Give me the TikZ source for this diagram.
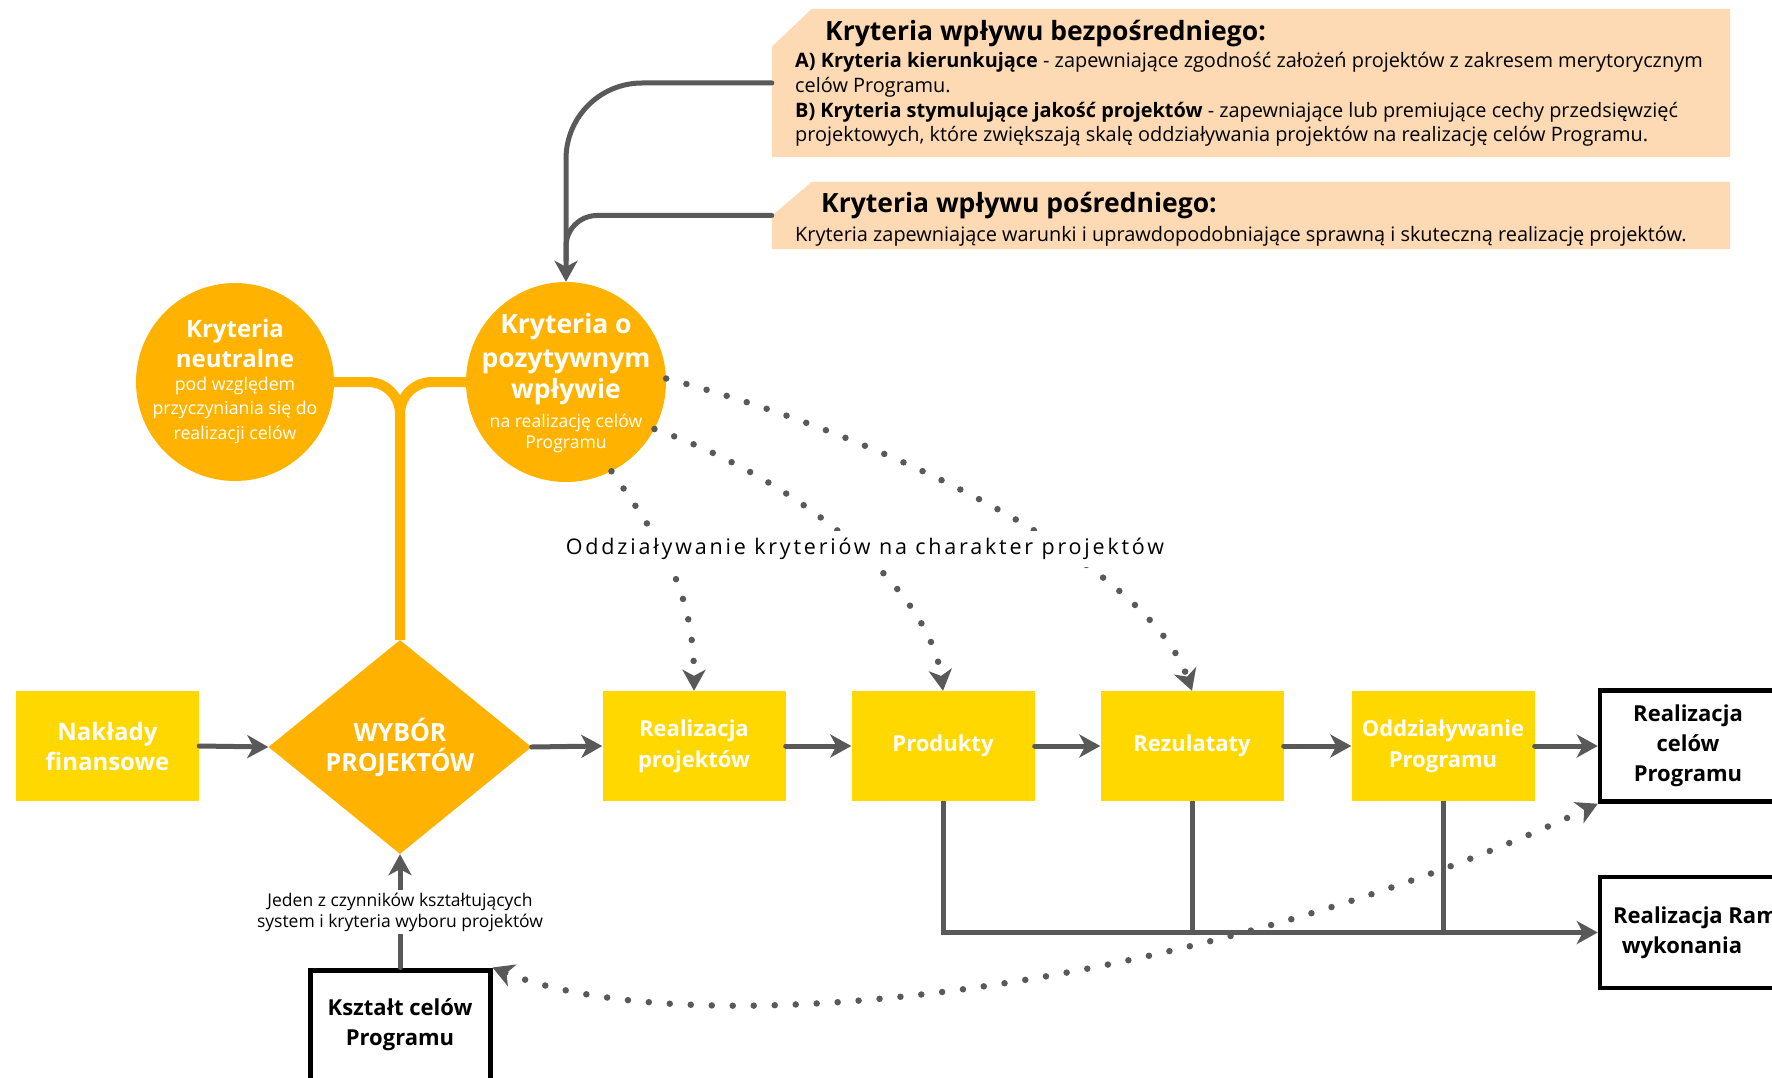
\documentclass[tikz,border=0pt]{standalone}
\usepackage{fontspec}
\setmainfont{Open Sans}
\usetikzlibrary{arrows.meta,shapes.geometric}
\definecolor{cyel}{HTML}{FFD800}
\definecolor{corg}{HTML}{FFB300}
\definecolor{cpeach}{HTML}{FDD9B4}
\definecolor{cgray}{HTML}{595959}
\newcommand\fsz[2]{\fontsize{#1}{#2}\selectfont}
\tikzset{
  gt/.tip={Stealth[length=21pt,width=23pt,inset=6pt]},
  ybox/.style={fill=cyel, minimum width=183pt, minimum height=110pt, inner sep=0pt,
    text=white, align=center, font=\bfseries\fsz{22}{31}},
  bbox/.style={draw=black, fill=white, line width=4.5pt, minimum width=176pt,
    minimum height=111pt, inner sep=0pt, align=center, font=\bfseries\fsz{22}{30}},
  gline/.style={draw=cgray, line width=5pt, line cap=round},
  dotline/.style={draw=cgray, line width=6.5pt, line cap=round, dash pattern=on 0pt off 21pt},
  oline/.style={draw=corg, line width=10pt},
  ctxt/.style={anchor=base, inner sep=0pt, text=white},
  ptxt/.style={anchor=base west, inner sep=0pt, font=\fsz{19.9}{25}},
  ptitle/.style={anchor=base west, inner sep=0pt, font=\bfseries\fsz{26.5}{32}},
}
\begin{document}
\begin{tikzpicture}[x=1pt,y=-1pt]
\useasboundingbox (0,0) rectangle (1772,1078);
\clip (0,0) rectangle (1772,1078);

% peach boxes
\node[minimum width=958pt, minimum height=148pt, inner sep=0pt] (p1) at (1251,83) {};
\fill[cpeach] ([xshift=40pt]p1.north west) -- (p1.north east) -- (p1.south east) -- (p1.south west) -- ([yshift=-38pt]p1.north west) -- cycle;
\node[minimum width=958pt, minimum height=67pt, inner sep=0pt] (p2) at (1251,215.5) {};
\fill[cpeach] ([xshift=40pt]p2.north west) -- (p2.north east) -- (p2.south east) -- (p2.south west) -- ([yshift=-34pt]p2.north west) -- cycle;

\node[ptitle] (t1) at (825,41) {Kryteria wpływu bezpośredniego:};
\node[ptxt] (t1a) at (795,68) {\textbf{A) Kryteria kierunkujące} - zapewniające zgodność założeń projektów z zakresem merytorycznym};
\node[ptxt] (t1b) at (795,93) {celów Programu.};
\node[ptxt] (t1c) at (795,118) {\textbf{B) Kryteria stymulujące jakość projektów} - zapewniające lub premiujące cechy przedsięwzięć};
\node[ptxt] (t1d) at (795,142) {projektowych, które zwiększają skalę oddziaływania projektów na realizację celów Programu.};
\node[ptitle] (t2) at (821,213) {Kryteria wpływu pośredniego:};
\node[ptxt] (t2a) at (795,241) {Kryteria zapewniające warunki i uprawdopodobniające sprawną i skuteczną realizację projektów.};

% main nodes (shapes)
\node[ybox, font=\bfseries\fsz{24}{30}] (nak) at (107.5,746) {Nakłady\\finansowe};
\node[ybox] (rp) at (694,746) {Realizacja\\projektów};
\node[ybox] (prod) at (943,746) {Produkty};
\node[ybox] (rez) at (1192,746) {Rezulataty};
\node[ybox] (odd) at (1443,746) {Oddziaływanie\\Programu};
\node[bbox] (rc) at (1688,746) {Realizacja\\celów\\Programu};
\node[bbox] (rr) at (1688,932.5) {\phantom{x}};
\node[anchor=base west, inner sep=0pt, font=\bfseries\fsz{22}{30}] (rrt1) at (1613,923) {Realizacja Ram};
\node[anchor=base, inner sep=0pt, font=\bfseries\fsz{22}{30}] (rrt2) at (1682,953) {wykonania};
\node[bbox, line width=5pt, minimum width=180pt, minimum height=110pt] (ks) at (400,1025) {Kształt celów\\Programu};

% orange connectors
\path (400,747) coordinate (wybc);
\node[diamond, minimum width=263pt, minimum height=214pt, aspect=1.23, inner sep=0pt] (wybshape) at (wybc) {};
\draw[oline, rounded corners=32pt] (235,382) -| (wybshape.north);
\draw[oline, rounded corners=32pt] (566,382) -| (wybshape.north);

\node[diamond, fill=corg, minimum width=263pt, minimum height=214pt, aspect=1.23, inner sep=0pt,
  text=white, align=center, font=\bfseries\fsz{25}{30}] (wyb) at (wybc) {WYBÓR\\PROJEKTÓW};

\node[circle, fill=corg, minimum size=198pt, inner sep=0pt] (neu) at (235,382) {};
\node[circle, fill=corg, minimum size=200pt, inner sep=0pt] (pos) at (566,382) {};

\node[ctxt, font=\bfseries\fsz{24}{30}] (n1) at (235,337) {Kryteria};
\node[ctxt, font=\bfseries\fsz{24}{30}] (n2) at (235,367) {neutralne};
\node[ctxt, font=\fsz{17.7}{22}] (n3) at (235,390) {pod względem};
\node[ctxt, font=\fsz{17.7}{22}] (n4) at (235,414) {przyczyniania się do};
\node[ctxt, font=\fsz{17.7}{22}] (n5) at (235,439) {realizacji celów};

\node[ctxt, font=\bfseries\fsz{26.5}{33}] (q1) at (566,333) {Kryteria o};
\node[ctxt, font=\bfseries\fsz{26.5}{33}] (q2) at (566,367) {pozytywnym};
\node[ctxt, font=\bfseries\fsz{26.5}{33}] (q3) at (566,398) {wpływie};
\node[ctxt, font=\fsz{17.6}{20}] (q4) at (566,427) {na realizację celów};
\node[ctxt, font=\fsz{17.6}{20}] (q5) at (566,448) {Programu};

% gray connectors top
\draw[gline, rounded corners=76pt, -gt] (p1.west) -| (pos.north);
\draw[gline, rounded corners=31pt, shorten >=21pt] (p2.west) -| (pos.north);

% main row arrows
\draw[gline, -gt] (nak.east) -- (wyb.west);
\draw[gline, -gt] (wyb.east) -- (rp.west);
\draw[gline, -gt] (rp.east) -- (prod.west);
\draw[gline, -gt] (prod.east) -- (rez.west);
\draw[gline, -gt] (rez.east) -- (odd.west);
\draw[gline, -gt] (odd.east) -- (rc.west);

% bottom collectors
\draw[gline, -gt, line cap=butt] (prod.south) |- (rr.west);
\draw[gline, line cap=butt] (rez.south) -- (rez.south |- rr.west);
\draw[gline, line cap=butt] (odd.south) -- (odd.south |- rr.west);

% Ksztalt arrow
\draw[gline, -gt] (ks.north) -- (wyb.south);
\node[fill=white, inner sep=3pt, align=center, font=\fsz{17.5}{21}] (jed) at (400,912) {Jeden z czynników kształtujących\\system i kryteria wyboru projektów};

% dotted influence arrows
\draw[dotline, -gt] (pos.-63) .. controls (660,540) and (694,590) .. (rp.north);
\draw[dotline, -gt] (pos.-28) .. controls (800,480) and (930,590) .. (prod.north);
\draw[dotline, -gt] (pos.2) .. controls (900,440) and (1150,570) .. (rez.north);
\node[fill=white, inner sep=7pt, font=\fsz{21.5}{25}\addfontfeature{LetterSpace=13}] (lab) at (865,549) {Oddziaływanie kryteriów na charakter projektów};

\draw[dotline, gt-gt] (ks.north east) .. controls (700,1050) and (1200,990) .. (rc.south west);
\end{tikzpicture}
\end{document}
